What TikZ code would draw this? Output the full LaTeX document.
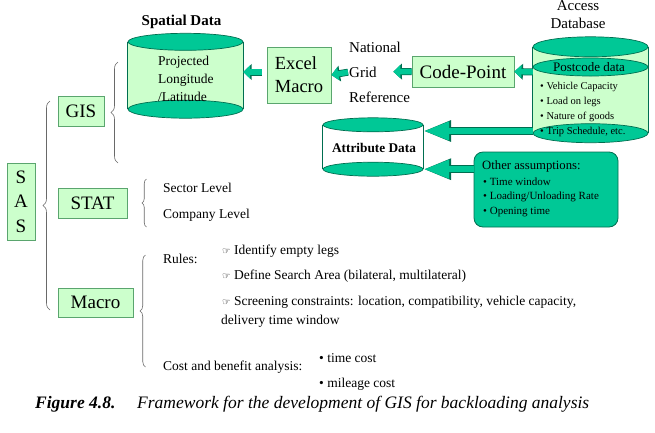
\documentclass[tikz,border=0pt]{standalone}
\usepackage{fontspec}
\setmainfont{Liberation Serif}
\newfontfamily\symfont{DejaVu Sans}
\usetikzlibrary{arrows.meta,decorations.pathreplacing}

\definecolor{boxfill}{RGB}{204,255,204}
\definecolor{boxline}{RGB}{90,165,110}
\definecolor{tealfill}{RGB}{0,200,150}
\definecolor{tealline}{RGB}{0,110,80}
\definecolor{bracegray}{RGB}{105,105,105}

\newcommand{\fsz}[1]{\fontsize{#1}{#1}\selectfont}
\newcommand{\handsym}{{\symfont\fontsize{9.5}{9.5}\selectfont ☞}}

\tikzset{
  gbox/.style={draw=boxline, fill=boxfill, line width=0.8pt, inner sep=0pt, font=\fsz{19}},
  txt/.style={anchor=west, inner sep=0pt, font=\fsz{13.5}},
  cylend/.style={draw=tealline, fill=tealfill, line width=0.7pt},
  cylside/.style={draw=tealline, line width=0.7pt},
  curly/.style={draw=bracegray, line width=0.6pt, decorate, decoration={brace, amplitude=#1}},
  smallarr/.style={draw=tealfill, line width=5.5pt, -{Triangle[length=7pt,width=13pt]},
    preaction={draw=tealline, line width=7pt, -{Triangle[length=8.5pt,width=15.5pt]}}},
  bigarr/.style={draw=tealfill, line width=6.5pt, -{Triangle[length=26pt,width=17pt]},
    preaction={draw=tealline, line width=8pt, -{Triangle[length=28pt,width=19.5pt]}}}
}

\begin{document}
\begin{tikzpicture}[x=1pt,y=-1pt]
\useasboundingbox (0,0) rectangle (655,432);

% left column
\node(sas) at (21,201.5)[gbox, minimum width=28, minimum height=77, align=center,
  font=\fontsize{19}{24.5}\selectfont] {S\\A\\S};
\node(gis) at (81,111)[gbox, minimum width=46, minimum height=30] {GIS};
\node(stat) at (92.5,203)[gbox, minimum width=69, minimum height=30] {STAT};
\node(macro) at (95.5,302.5)[gbox, minimum width=75, minimum height=29] {Macro};

\draw[curly=7pt] (50,310) -- (50,101);
\draw[curly=7pt] (118,163) -- (118,62);
\draw[curly=4.5pt] (146.5,227) -- (146.5,179);
\draw[curly=5.5pt] (145.5,367) -- (145.5,255);

\node(sector) at (163,188)[txt] {Sector Level};
\node(company) at (163,215)[txt] {Company Level};

\node(rules) at (163,259)[txt] {Rules:};
\node(rule1) at (222,251)[txt] {\handsym\ Identify empty legs};
\node(rule2) at (222,276)[txt] {\handsym\ Define Search Area (bilateral, multilateral)};
\node(rule3) at (222,302)[txt] {\handsym\ Screening constraints: location, compatibility, vehicle capacity,};
\node(rule3b) at (221,321)[txt] {delivery time window};
\node(cost) at (163,367)[txt] {Cost and benefit analysis:};
\node(timecost) at (319,358)[txt] {• time cost};
\node(mileage) at (319,384)[txt] {• mileage cost};

% spatial data
\node(spatialhead) at (181.5,22)[inner sep=0pt, font=\fsz{15}\bfseries] {Spatial Data};
\node(spatial) at (185.5,75.5)[minimum width=115, minimum height=67, inner sep=0pt] {};
\fill[boxfill] (spatial.north west) rectangle (spatial.south east);
\draw[cylside] (spatial.north west) -- (spatial.south west) (spatial.north east) -- (spatial.south east);
\draw[cylend] (spatial.south) ellipse [x radius=57.5pt, y radius=9pt];
\draw[cylend] (spatial.north) ellipse [x radius=57.5pt, y radius=8.5pt];
\node(spatialtxt) at (158,79)[txt, align=left, font=\fontsize{13.5}{18}\selectfont] {Projected\\Longitude\\/Latitude};

\node(excel) at (299,75)[gbox, minimum width=64, minimum height=56, align=left,
  font=\fontsize{18.5}{23}\selectfont] {Excel\\Macro};

\node(national) at (349,47)[txt, font=\fsz{15}] {National};
\node(grid) at (349,72)[txt, font=\fsz{15}] {Grid};
\node(reference) at (349,97)[txt, font=\fsz{15}] {Reference};

\node(code) at (463,71.5)[gbox, minimum width=102, minimum height=31] {Code-Point};

% access database
\node(accesshead) at (578,15)[inner sep=0pt, align=center, font=\fontsize{15}{18}\selectfont] {Access\\Database};
\node(access) at (590.5,90)[minimum width=115, minimum height=86, inner sep=0pt] {};
\fill[boxfill] (access.north west) rectangle (access.south east);
\draw[cylside] (access.north west) -- (access.south west) (access.north east) -- (access.south east);
\draw[cylend] (access.south) ellipse [x radius=57.5pt, y radius=9.5pt];
\draw[cylend] (access.north) ellipse [x radius=57.5pt, y radius=10pt];
\draw[cylend] (access.center|-0,67) ellipse [x radius=57.5pt, y radius=9pt];
\node(postcode) at (589,67)[inner sep=0pt, font=\fsz{13}] {Postcode data};
\node(vehicle) at (540,87)[txt, font=\fsz{10.5}] {• Vehicle Capacity};
\node(load) at (540,102)[txt, font=\fsz{10.5}] {• Load on legs};
\node(nature) at (540,117)[txt, font=\fsz{10.5}] {• Nature of goods};
\node(trip) at (540,132)[txt, font=\fsz{10.5}] {• Trip Schedule, etc.};

% attribute data
\node(attrib) at (373,147)[minimum width=100, minimum height=44, inner sep=0pt] {};
\fill[white] (attrib.north west) rectangle (attrib.south east);
\draw[cylside] (attrib.north west) -- (attrib.south west) (attrib.north east) -- (attrib.south east);
\draw[cylend] (attrib.south) ellipse [x radius=50pt, y radius=7pt];
\draw[cylend] (attrib.north) ellipse [x radius=50pt, y radius=7pt];
\node(attribtxt) at (374,148)[inner sep=0pt, font=\fsz{13.3}\bfseries] {Attribute Data};

% assumptions
\node(other) at (546,189.5)[draw=tealline, fill=tealfill, line width=0.8pt, rounded corners=9pt,
  minimum width=144, minimum height=75] {};
\node(othertitle) at (482,166)[txt, font=\fsz{12.7}] {Other assumptions:};
\node(window) at (483,182)[txt, font=\fsz{11}] {• Time window};
\node(loading) at (483,197)[txt, font=\fsz{11}] {• Loading/Unloading Rate};
\node(opening) at (483,212)[txt, font=\fsz{11}] {• Opening time};

% arrows
\draw[smallarr, shorten <=5pt] (excel.west|-grid) -- (spatial.east|-grid);
\draw[smallarr, shorten <=1pt] (grid.west) -- (excel.east);
\draw[smallarr, shorten >=16.5pt] (code.west) -- (grid.east);
\draw[smallarr] (access.west|-grid) -- (code.east);
\draw[bigarr] (access.west|-0,131) -- (attrib.east|-0,131);
\draw[bigarr] (other.west|-attrib.south) -- (attrib.south east);

% caption
\node(fignum) at (35,404)[txt, font=\fsz{17.5}\bfseries\itshape] {Figure 4.8.};
\node(figcap) at (137,404)[txt, font=\fsz{17.5}\itshape] {Framework for the development of GIS for backloading analysis};

\end{tikzpicture}
\end{document}
